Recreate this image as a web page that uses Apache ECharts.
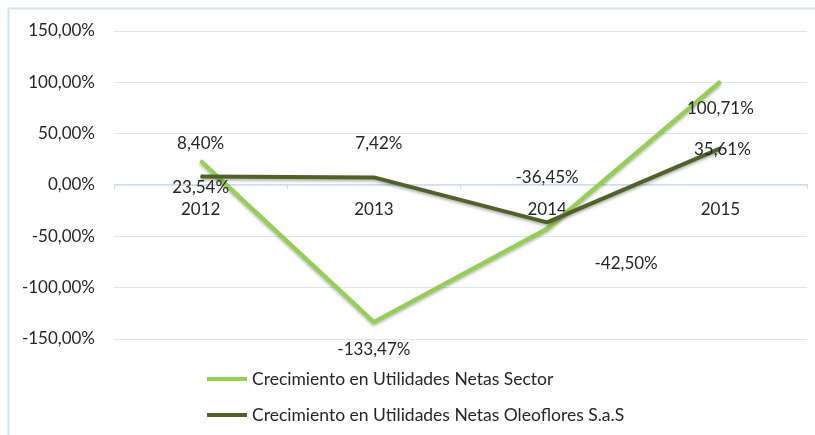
<!DOCTYPE html>
<html>
<head>
<meta charset="utf-8">
<script src="https://cdn.jsdelivr.net/npm/echarts@6/dist/echarts.min.js"></script>
<style>
  html, body { margin: 0; padding: 0; background: #fff; }
  #chart { width: 815px; height: 435px; }
</style>
</head>
<body>
<div id="chart"></div>
<script>
const years = ['2012', '2013', '2014', '2015'];
const sectorName = 'Crecimiento en Utilidades Netas Sector';
const oleoName = 'Crecimiento en Utilidades Netas Oleoflores S.a.S';
const sectorValues = [23.54, -133.47, -42.50, 100.71];
const oleoValues = [8.40, 7.42, -36.45, 35.61];

// desplazamiento de etiquetas (como en el Excel original)
const sectorLabelOffset = [[0, 27], [0, 27], [79, 35], [0, 27]];
const oleoLabelOffset = [[0, -33], [5, -34], [0, -45], [2, 1]];

const FONT = 'Lato';
const FS = 17;
const TXT = '#262626';

const fmt = (v) => v.toFixed(2).replace('.', ',') + '%';

const buildData = (values, offsets) =>
  values.map((v, i) => ({
    value: v,
    label: { offset: offsets[i] }
  }));

const lineSeries = (name, color, values, offsets) => ({
  name: name,
  type: 'line',
  data: buildData(values, offsets),
  symbol: 'circle',
  symbolSize: 1,
  itemStyle: { color: color },
  lineStyle: {
    color: color,
    width: 4,
    shadowColor: 'rgba(0,0,0,0.3)',
    shadowBlur: 3,
    shadowOffsetY: 2
  },
  label: {
    show: true,
    position: 'inside',
    color: TXT,
    fontFamily: FONT,
    fontSize: FS,
    formatter: (p) => fmt(p.value)
  },
  emphasis: { disabled: true },
  z: 3
});

const chart = echarts.init(document.getElementById('chart'));
const option = {
  animation: false,
  backgroundColor: '#fff',
  textStyle: { fontFamily: FONT },
  grid: { left: 114, right: 8, top: 31, bottom: 96 },
  graphic: [
    {
      type: 'polyline',
      shape: { points: [[8.5, 435], [8.5, 8.5], [815, 8.5]] },
      style: { stroke: '#D6E2F1', lineWidth: 2, fill: null },
      silent: true
    }
  ],
  legend: {
    orient: 'vertical',
    left: 202,
    top: 365,
    icon: 'rect',
    itemWidth: 40,
    itemHeight: 4,
    itemGap: 18,
    textStyle: { color: TXT, fontFamily: FONT, fontSize: 17.5 },
    data: [sectorName, oleoName]
  },
  xAxis: {
    type: 'category',
    data: years,
    boundaryGap: true,
    position: 'bottom',
    offset: -155, // eje en el 0%
    axisLine: { onZero: false, lineStyle: { color: '#D0DCEC', width: 1 } },
    axisTick: { show: true, length: 5, lineStyle: { color: '#D0DCEC' } },
    axisLabel: { color: TXT, fontFamily: FONT, fontSize: FS, margin: 17 },
    splitLine: { show: false }
  },
  yAxis: {
    type: 'value',
    min: -150,
    max: 150,
    interval: 50,
    axisLine: { show: false },
    axisTick: { show: false },
    axisLabel: {
      color: TXT,
      fontFamily: FONT,
      fontSize: FS,
      margin: 19,
      formatter: (v) => fmt(v)
    },
    splitLine: { lineStyle: { color: '#DCE6F2', width: 1 } }
  },
  series: [
    lineSeries(sectorName, '#92D050', sectorValues, sectorLabelOffset),
    lineSeries(oleoName, '#4F6228', oleoValues, oleoLabelOffset)
  ]
};
chart.setOption(option);
window.addEventListener('resize', function () {
  chart.resize();
});
</script>
</body>
</html>
